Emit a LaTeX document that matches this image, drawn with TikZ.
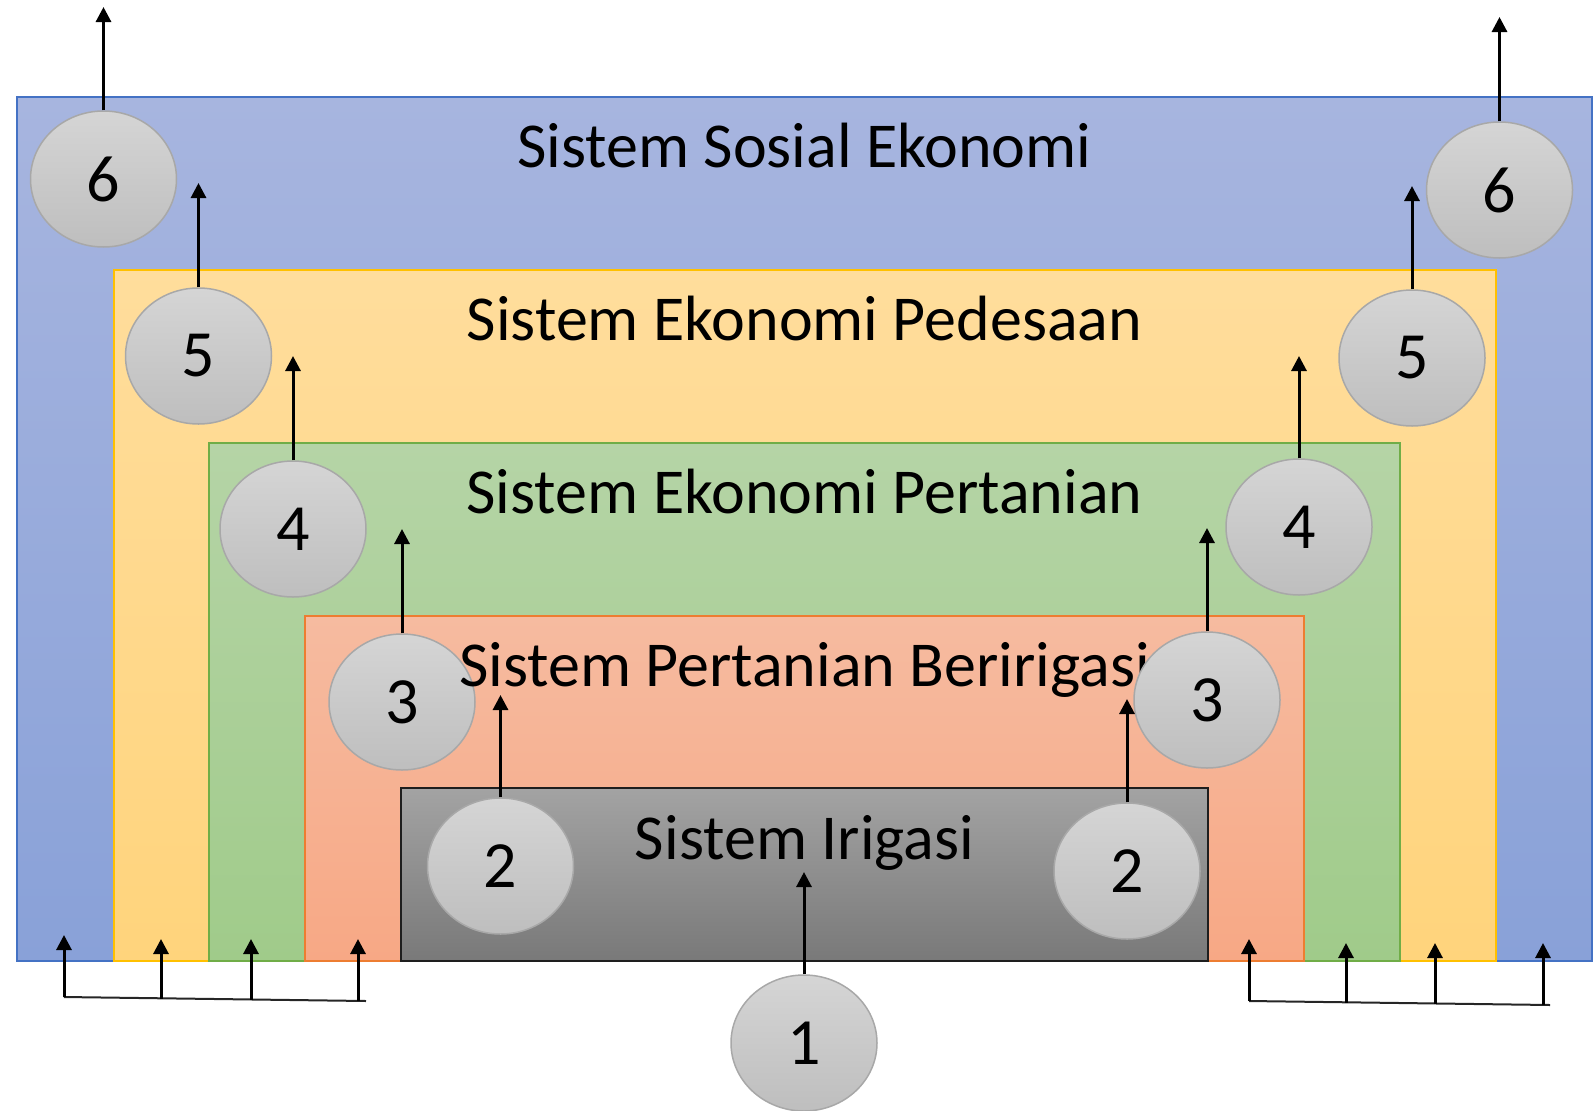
\documentclass[tikz,border=0pt]{standalone}
\usepackage{fontspec}
\setmainfont{Carlito}
\usetikzlibrary{shapes.geometric,arrows.meta}
\definecolor{blueT}{RGB}{167,181,223}
\definecolor{blueB}{RGB}{137,161,216}
\definecolor{blueD}{RGB}{68,114,196}
\definecolor{yelT}{RGB}{255,221,156}
\definecolor{yelB}{RGB}{255,212,124}
\definecolor{yelD}{RGB}{255,192,0}
\definecolor{grnT}{RGB}{181,212,166}
\definecolor{grnB}{RGB}{160,203,138}
\definecolor{grnD}{RGB}{112,173,71}
\definecolor{orgT}{RGB}{246,187,160}
\definecolor{orgB}{RGB}{247,168,133}
\definecolor{orgD}{RGB}{237,125,49}
\definecolor{gryT}{RGB}{163,163,163}
\definecolor{gryB}{RGB}{121,121,121}
\definecolor{gryD}{RGB}{30,30,30}
\definecolor{cirT}{RGB}{213,213,213}
\definecolor{cirB}{RGB}{190,190,190}
\definecolor{cirD}{RGB}{168,168,168}
\begin{document}
\begin{tikzpicture}[x=1pt,y=-1pt,
  every node/.style={font=\fontsize{66}{80}\selectfont},
  layerbox/.style={rectangle, inner sep=0pt, outer sep=0pt, line width=1.5pt},
  numcirc/.style={ellipse, minimum width=146pt, minimum height=136pt, inner sep=0pt,
     draw=cirD, line width=1.5pt, top color=cirT, bottom color=cirB},
  lbl/.style={anchor=base, inner sep=0pt, font=\fontsize{64}{78}\selectfont},
  arr/.style={line width=3pt, -{Triangle[width=15pt,length=15pt]}},
  baseline line/.style={line width=2pt, draw=black!85}]
\useasboundingbox (0,0) rectangle (1596,1111);
% layers
\node[layerbox, draw=blueD, top color=blueT, bottom color=blueB, minimum width=1575pt, minimum height=864pt] (rBlue) at (804.5,529) {};
\node[layerbox, draw=yelD, top color=yelT, bottom color=yelB, minimum width=1382pt, minimum height=691pt] (rYel) at (805,615.5) {};
\node[layerbox, draw=grnD, top color=grnT, bottom color=grnB, minimum width=1191pt, minimum height=518pt] (rGrn) at (804.5,702) {};
\node[layerbox, draw=orgD, top color=orgT, bottom color=orgB, minimum width=999pt, minimum height=345pt] (rOrg) at (804.5,788.5) {};
\node[layerbox, draw=gryD, top color=gryT, bottom color=gryB, minimum width=807pt, minimum height=173pt] (rGry) at (804.5,874.5) {};
% labels
\node[lbl] (tSos) at (804.5,167) {Sistem Sosial Ekonomi};
\node[lbl] (tDes) at (804.5,340) {Sistem Ekonomi Pedesaan};
\node[lbl] (tTan) at (804.5,513) {Sistem Ekonomi Pertanian};
\node[numcirc] (c3L) at (402,702) {3};
\node[lbl] (tIrP) at (804.5,686) {Sistem Pertanian Beririgasi};
\node[lbl] (tIr) at (804.5,859) {Sistem Irigasi};
% circles
\node[numcirc] (c6L) at (103.5,179) {6};
\node[numcirc] (c6R) at (1499.5,190) {6};
\node[numcirc] (c5L) at (198.5,356) {5};
\node[numcirc] (c5R) at (1412,358) {5};
\node[numcirc] (c4L) at (293,529) {4};
\node[numcirc] (c4R) at (1299,527) {4};
\node[numcirc] (c3R) at (1207,700) {3};
\node[numcirc] (c2L) at (500.5,866) {2};
\node[numcirc] (c2R) at (1127,871) {2};
\node[numcirc] (c1) at (804,1043) {1};
% arrow ends
\coordinate (e6L) at (103.5,7);
\coordinate (e6R) at (1499.5,17);
\coordinate (e5L) at (198.5,183);
\coordinate (e5R) at (1412,186);
\coordinate (e4L) at (293,356);
\coordinate (e4R) at (1299,356);
\coordinate (e3L) at (402,529);
\coordinate (e3R) at (1207,528);
\coordinate (e2L) at (500.5,695);
\coordinate (e2R) at (1127,699);
\coordinate (e1) at (804,872);
\draw[arr] (c6L.north) -- (e6L);
\draw[arr] (c6R.north) -- (e6R);
\draw[arr] (c5L.north) -- (e5L);
\draw[arr] (c5R.north) -- (e5R);
\draw[arr] (c4L.north) -- (e4L);
\draw[arr] (c4R.north) -- (e4R);
\draw[arr] (c3L.north) -- (e3L);
\draw[arr] (c3R.north) -- (e3R);
\draw[arr] (c2L.north) -- (e2L);
\draw[arr] (c2R.north) -- (e2R);
\draw[arr] (c1.north) -- (e1);
% bottom left connectors
\coordinate (bL1) at (64,997);
\coordinate (bL2) at (161,999);
\coordinate (bL3) at (251,1000);
\coordinate (bL4) at (358,1001);
\coordinate (bLE) at (366,1001);
\coordinate (tL1) at (64,935);
\coordinate (tL2) at (161,939);
\coordinate (tL3) at (251,939);
\coordinate (tL4) at (358,939);
\draw[baseline line] (bL1) -- (bLE);
\draw[arr] (bL1) -- (tL1);
\draw[arr] (bL2) -- (tL2);
\draw[arr] (bL3) -- (tL3);
\draw[arr] (bL4) -- (tL4);
% bottom right connectors
\coordinate (bR1) at (1249,1001);
\coordinate (bR2) at (1346,1003);
\coordinate (bR3) at (1435,1004);
\coordinate (bR4) at (1543,1005);
\coordinate (bRE) at (1550,1005);
\coordinate (tR1) at (1249,939);
\coordinate (tR2) at (1346,943);
\coordinate (tR3) at (1435,943);
\coordinate (tR4) at (1543,943);
\draw[baseline line] (bR1) -- (bRE);
\draw[arr] (bR1) -- (tR1);
\draw[arr] (bR2) -- (tR2);
\draw[arr] (bR3) -- (tR3);
\draw[arr] (bR4) -- (tR4);
\end{tikzpicture}
\end{document}
